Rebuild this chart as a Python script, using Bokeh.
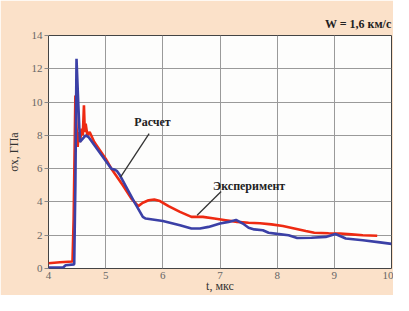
from bokeh.plotting import figure
from bokeh.models import Range1d, Label, FixedTicker
from bokeh.embed import file_html
from bokeh.resources import INLINE

# Расчет (blue)
calc_t = [4.0, 4.25, 4.3, 4.45, 4.47, 4.49, 4.52, 4.55, 4.6, 4.65, 4.7, 5.1, 5.15, 5.2, 5.25,
          5.5, 5.65, 5.7, 6.0, 6.3, 6.5, 6.65, 6.8, 7.0, 7.15, 7.28, 7.4, 7.5, 7.6, 7.75,
          7.85, 8.0, 8.2, 8.35, 8.6, 8.85, 9.02, 9.2, 9.5, 9.8, 10.0]
calc_s = [0.05, 0.05, 0.2, 0.25, 5.0, 12.6, 10.0, 7.6, 7.8, 8.0, 7.9, 6.0, 5.95, 5.85, 5.6,
          4.0, 3.1, 3.0, 2.85, 2.6, 2.4, 2.4, 2.5, 2.7, 2.8, 2.92, 2.7, 2.45, 2.35, 2.3,
          2.15, 2.08, 2.0, 1.83, 1.85, 1.9, 2.07, 1.8, 1.7, 1.57, 1.48]

# Эксперимент (red)
exp_t = [4.0, 4.2, 4.42, 4.44, 4.47, 4.49, 4.51, 4.53, 4.55, 4.58, 4.6, 4.62, 4.635, 4.65,
         4.68, 4.72, 4.8, 5.0, 5.1, 5.3, 5.45, 5.57, 5.65, 5.75, 5.85, 5.95, 6.1, 6.3, 6.5,
         6.7, 6.9, 7.1, 7.3, 7.5, 7.7, 7.9, 8.1, 8.3, 8.5, 8.65, 8.9, 9.1, 9.3, 9.5, 9.75]
exp_s = [0.32, 0.38, 0.42, 3.0, 10.4, 8.5, 7.3, 8.2, 7.6, 8.4, 8.0, 9.8, 8.2, 8.7,
         8.0, 8.2, 7.6, 6.6, 6.0, 5.0, 4.2, 3.75, 3.95, 4.1, 4.15, 4.05, 3.75, 3.4, 3.1,
         3.1, 3.0, 2.9, 2.8, 2.75, 2.72, 2.65, 2.55, 2.4, 2.25, 2.15, 2.12, 2.1, 2.05, 2.0, 1.97]

x_ticks = [4, 5, 6, 7, 8, 9, 10]
y_ticks = [0, 2, 4, 6, 8, 10, 12, 14]

# annotation anchors (data units)
calc_label = ("Расчет", 5.82, 8.8)
calc_arrow = ([5.76, 5.26], [8.11, 5.49])
exp_label = ("Эксперимент", 7.51, 4.97)
exp_arrow = ([7.02, 6.6], [4.63, 3.2])

SERIF = "'Liberation Serif', 'Times New Roman', serif"
BG = "#FBE1C9"

p = figure(width=393, height=295, output_backend="svg", toolbar_location=None,
           x_range=Range1d(4, 10), y_range=Range1d(0, 14),
           title="W = 1,6 км/с")
p.background_fill_color = "#FDFDFC"
p.border_fill_color = BG
p.outline_line_color = "#444444"
p.outline_line_width = 1
p.min_border_left = 48
p.min_border_right = 2
p.min_border_top = 35
p.min_border_bottom = 27

p.title.align = "right"
p.title.text_font = SERIF
p.title.text_font_size = "12px"
p.title.text_font_style = "bold"
p.title.text_color = "#222222"
p.title.standoff = 10
p.title.offset = 0

for ax in (p.xaxis[0], p.yaxis[0]):
    ax.axis_line_color = None
    ax.major_label_text_font = SERIF
    ax.major_label_text_font_size = "11px"
    ax.major_label_text_color = "#666666"
    ax.axis_label_text_font = SERIF
    ax.axis_label_text_font_size = "12px"
    ax.axis_label_text_font_style = "normal"
    ax.axis_label_text_color = "#333333"
    ax.minor_tick_line_color = None
    ax.major_tick_in = 0

p.xaxis.ticker = FixedTicker(ticks=x_ticks)
p.yaxis.ticker = FixedTicker(ticks=y_ticks)
p.xaxis.axis_label = "t, мкс"
p.yaxis.axis_label = "σx, ГПа"
p.xaxis.major_tick_out = 0
p.xaxis.major_label_standoff = 3
p.xaxis.axis_label_standoff = -3
p.yaxis.major_tick_out = 4
p.yaxis.major_tick_line_color = "#888888"
p.yaxis.major_label_standoff = 2
p.yaxis.axis_label_standoff = 8

p.grid.grid_line_color = "#9a9a9a"
p.grid.grid_line_width = 1

p.line(exp_t, exp_s, line_color="#EE2A12", line_width=2.6)
p.line(calc_t, calc_s, line_color="#3B40A6", line_width=2.6)

for (txt, tx, ty), (ax_, ay_) in ((calc_label, calc_arrow), (exp_label, exp_arrow)):
    p.line(ax_, ay_, line_color="#333333", line_width=1.3)
    p.add_layout(Label(x=tx, y=ty, text=txt, text_font=SERIF, text_font_size="12px",
                       text_font_style="bold", text_color="#222222",
                       text_align="center", text_baseline="middle"))

open("out.html", "w").write(file_html(p, INLINE))
